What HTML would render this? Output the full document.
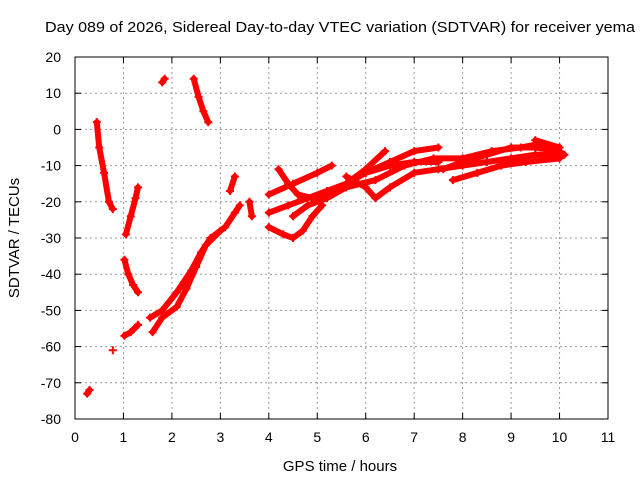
<!DOCTYPE html>
<html><head><meta charset="utf-8"><style>
body{margin:0;background:#fff}
svg{display:block;font-family:"Liberation Sans",sans-serif}
</style></head><body>
<svg id="chart" width="640" height="480" viewBox="0 0 640 480">
<text x="340" y="32" font-size="15" text-anchor="middle" textLength="590" lengthAdjust="spacingAndGlyphs">Day 089 of 2026, Sidereal Day-to-day VTEC variation (SDTVAR) for receiver yema</text>
<text x="340" y="471" font-size="15" text-anchor="middle">GPS time / hours</text>
<text transform="translate(19,238) rotate(-90)" font-size="15" text-anchor="middle">SDTVAR / TECUs</text>
<g id="grid"></g><g id="ticks"></g><g id="series"></g>
<rect x="75" y="57" width="533" height="362" fill="none" stroke="#000" stroke-width="1"/>
</svg>
<script>
const xTicks=[0,1,2,3,4,5,6,7,8,9,10,11];
const yTicks=[20,10,0,-10,-20,-30,-40,-50,-60,-70,-80];
const t1=[[0.45,2],[0.5,-5],[0.6,-12],[0.7,-20],[0.78,-22]];
const t2=[[1.05,-29],[1.15,-24],[1.25,-19],[1.3,-16]];
const t3=[[1.02,-36],[1.1,-40],[1.2,-43],[1.3,-45]];
const t4=[[1.02,-57],[1.15,-56],[1.3,-54]];
const t5=[[0.78,-61]];
const t6=[[0.25,-73],[0.3,-72]];
const t7=[[1.8,13],[1.85,14]];
const t8=[[2.45,14],[2.55,9],[2.65,5],[2.75,2]];
const t9=[[1.55,-52],[1.8,-50],[2.1,-45],[2.4,-39],[2.6,-34],[2.8,-30],[3.1,-27],[3.3,-23],[3.4,-21]];
const t10=[[1.6,-56],[1.8,-52],[2.1,-49],[2.3,-44],[2.5,-38],[2.7,-32],[3.0,-28]];
const t11=[[3.2,-17],[3.3,-13]];
const t12=[[3.6,-20],[3.65,-24]];
const tA=[[4.0,-18],[4.5,-15],[5.0,-12],[5.3,-10]];
const tB=[[4.2,-11],[4.4,-15],[4.6,-18],[4.9,-19],[5.3,-18],[5.6,-15],[6.0,-12],[6.5,-10],[7.0,-9],[7.5,-9]];
const tC=[[4.0,-23],[4.4,-21],[4.8,-19],[5.2,-17],[5.6,-15],[6.0,-11],[6.4,-6]];
const tD=[[4.0,-27],[4.3,-29],[4.5,-30],[4.7,-28],[4.9,-24],[5.1,-21]];
const tE=[[4.5,-24],[4.8,-21],[5.2,-19],[5.6,-16],[6.2,-14],[6.8,-10],[7.4,-8],[8.0,-8],[8.6,-6],[9.2,-5],[9.6,-4],[10.0,-5]];
const tF=[[5.6,-13],[6.0,-16],[6.2,-19],[6.5,-16],[7.0,-12],[7.5,-11],[8.0,-10],[8.5,-9],[9.0,-8],[9.5,-7],[10.1,-7]];
const tG=[[6.0,-12],[6.5,-9],[7.0,-6],[7.5,-5]];
const tH=[[7.6,-11],[8.0,-9],[8.5,-7],[9.0,-5],[9.5,-5],[10.0,-6]];
const tI=[[7.8,-14],[8.3,-12],[8.8,-10],[9.3,-9],[10.0,-8]];
const tJ=[[9.5,-3],[10.0,-5]];
const traces=[t1,t2,t3,t4,t5,t6,t7,t8,t9,t10,t11,t12,tA,tB,tC,tD,tE,tF,tG,tH,tI,tJ];

const NS="http://www.w3.org/2000/svg";
const X=h=>75+h*(533/11);
const Y=v=>57+(20-v)*3.62;
function mk(tag,at,parent){const e=document.createElementNS(NS,tag);for(const k in at)e.setAttribute(k,at[k]);parent.appendChild(e);return e;}
const grid=document.getElementById('grid'),ticks=document.getElementById('ticks'),ser=document.getElementById('series');
xTicks.forEach(t=>{
  if(t>0&&t<11){const l=mk('line',{x1:X(t),x2:X(t),y1:57,y2:419,stroke:'#999','stroke-dasharray':'2,3'},grid);
  
  }
  mk('line',{x1:X(t),x2:X(t),y1:419,y2:413,stroke:'#000'},ticks);
  mk('line',{x1:X(t),x2:X(t),y1:57,y2:63,stroke:'#000'},ticks);
  const tx=mk('text',{x:X(t),y:442,'font-size':14,'text-anchor':'middle'},ticks);tx.textContent=t;
  
  
});
yTicks.forEach(t=>{
  if(t<20&&t>-80){const l=mk('line',{x1:75,x2:608,y1:Y(t),y2:Y(t),stroke:'#999','stroke-dasharray':'2,3'},grid);
  
  }
  mk('line',{x1:75,x2:81,y1:Y(t),y2:Y(t),stroke:'#000'},ticks);
  mk('line',{x1:602,x2:608,y1:Y(t),y2:Y(t),stroke:'#000'},ticks);
  const tx=mk('text',{x:61,y:Y(t)+5,'font-size':14,'text-anchor':'end'},ticks);tx.textContent=t;
  
  
});
traces.forEach(tr=>{
  const g=mk('g',{},ser);
  
  
  if(tr.length>1){
    mk('polyline',{points:tr.map(p=>X(p[0])+','+Y(p[1])).join(' '),fill:'none',stroke:'#f00','stroke-width':6,'stroke-linejoin':'round','stroke-linecap':'round'},g);
  }
  tr.forEach(p=>{
    const x=X(p[0]),y=Y(p[1]);
    mk('path',{d:`M${x-4},${y}H${x+4}M${x},${y-4}V${y+4}`,stroke:'#f00','stroke-width':2},g);
  });
});
</script>
</body></html>
